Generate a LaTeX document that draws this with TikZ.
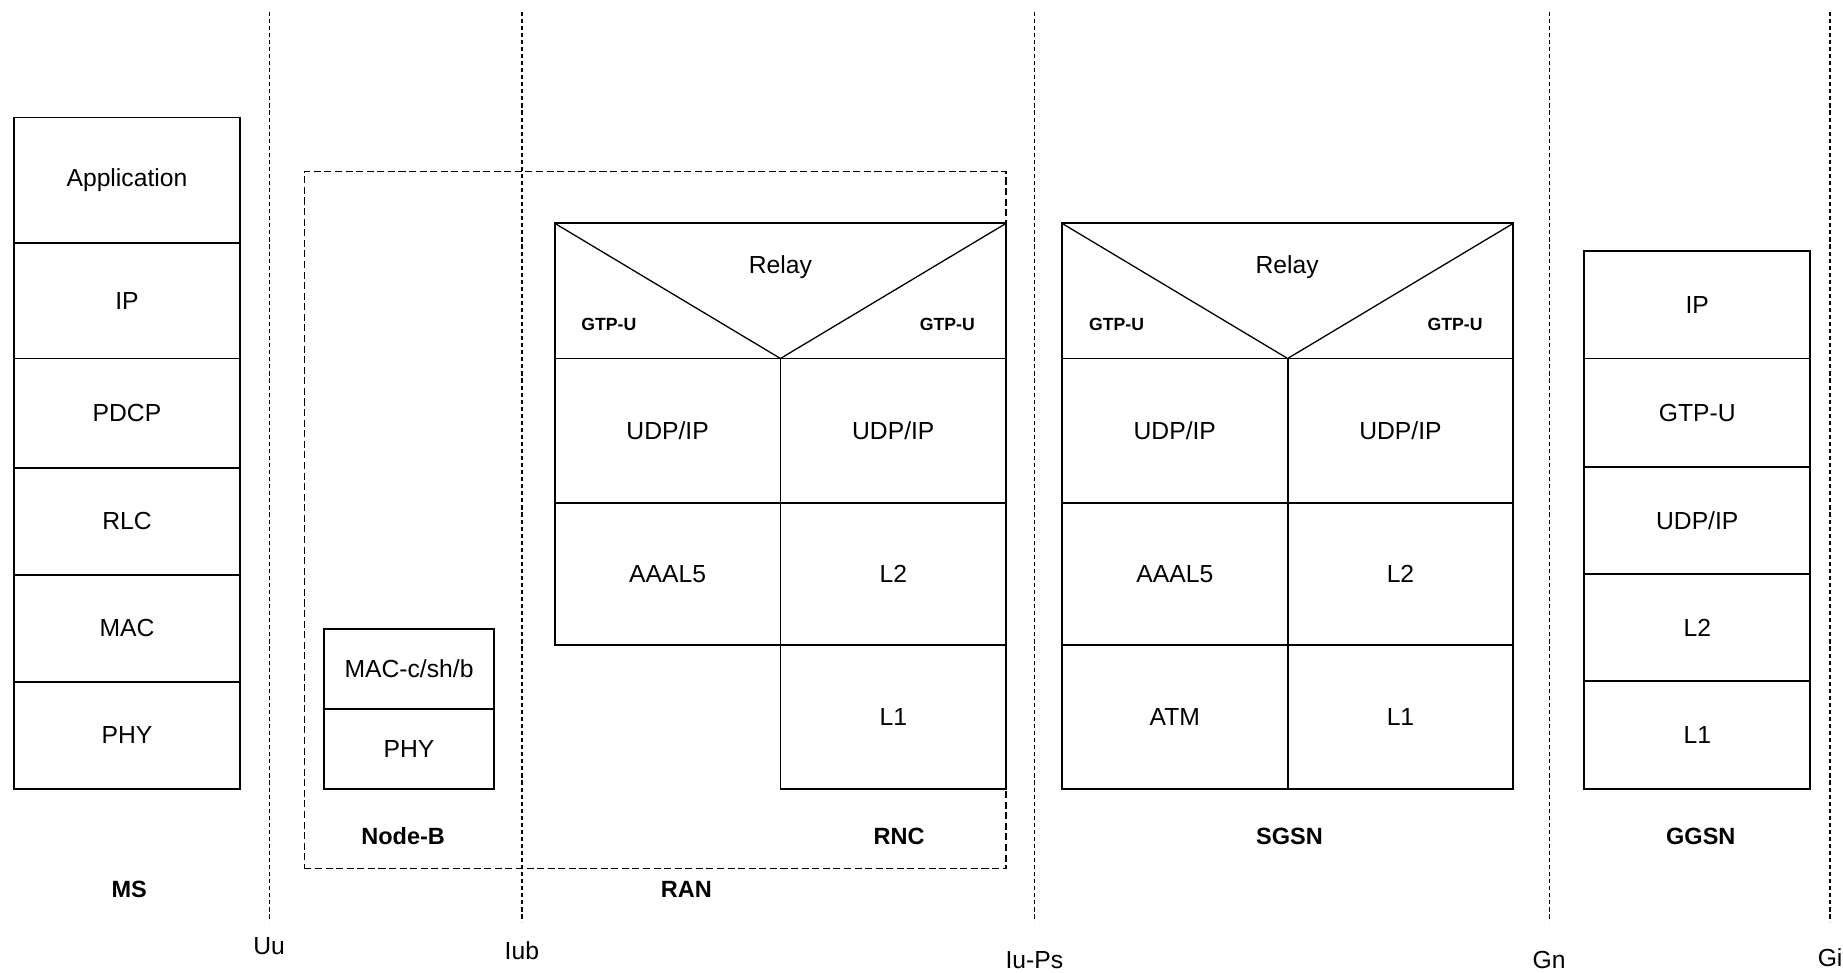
\documentclass[tikz,border=0pt]{standalone}
\usepackage{fontspec}
\setmainfont{Liberation Sans}
\usetikzlibrary{positioning}

\begin{document}
\begin{tikzpicture}[x=1pt,y=-1pt,font=\fontsize{21}{25}\selectfont]
\tikzstyle{layer}=[draw,line width=1.6pt,inner sep=0pt,outer sep=0pt,minimum width=192pt]
\tikzstyle{iface}=[line width=1.1pt,dash pattern=on 3.5pt off 2.5pt]
\tikzstyle{frame}=[draw,line width=1.2pt,dash pattern=on 6pt off 3pt,inner sep=0pt,outer sep=0pt]
\tikzstyle{entity}=[font=\bfseries\fontsize{20}{24}\selectfont]
\tikzstyle{gtp}=[font=\bfseries\fontsize{15}{18}\selectfont]
\useasboundingbox (0,0) rectangle (1568,827);
% interfaces
\foreach \x/\name/\lab/\ly in {229/uu/Uu/805,444/iub/Iub/809,880/iups/Iu-Ps/817,1318/gn/Gn/817,1557/gi/Gi/815}{
  \coordinate (\name top) at (\x,10);
  \coordinate (\name bot) at (\x,784);
  \node (\name) at (\x,\ly) {\lab};
  \draw[iface] (\name top) -- (\name bot);
}
% MS
\node[layer,minimum height=107pt] (app) at (108,153.5) {Application};
\node[layer,minimum height=98pt,below=0pt of app] (msip) {IP};
\node[layer,minimum height=93pt,below=0pt of msip] (pdcp) {PDCP};
\node[layer,minimum height=91pt,below=0pt of pdcp] (rlc) {RLC};
\node[layer,minimum height=91pt,below=0pt of rlc] (mac) {MAC};
\node[layer,minimum height=91pt,below=0pt of mac] (msphy) {PHY};
\node[entity] (ms) at (110,757) {MS};
% RAN
\node[frame,minimum width=597pt,minimum height=593pt] (ranframe) at (557.5,442.5) {};
\node[entity] (ran) at (584,757) {RAN};
% Node-B
\node[layer,minimum width=144pt,minimum height=68pt] (macc) at (348,569) {MAC-c/sh/b};
\node[layer,minimum width=144pt,minimum height=68pt,below=0pt of macc] (nbphy) {PHY};
\node[entity] (nodeb) at (343,711) {Node-B};
% RNC
\node[layer,minimum width=384pt,minimum height=115pt] (rncrelay) at (664,247.5) {};
\draw[line width=1.1pt] (rncrelay.north west) -- (rncrelay.south) -- (rncrelay.north east);
\node (rncrelaytxt) at (664,227) {Relay};
\node[gtp] (rncgtpa) at (518,276) {GTP-U};
\node[gtp] (rncgtpb) at (806,276) {GTP-U};
\node[layer,minimum height=123pt,below right=0pt of rncrelay.south west] (rncudpa) {UDP/IP};
\node[layer,minimum height=123pt,right=0pt of rncudpa] (rncudpb) {UDP/IP};
\node[layer,minimum height=121pt,below=0pt of rncudpa] (rncaal) {AAAL5};
\node[layer,minimum height=121pt,below=0pt of rncudpb] (rncl2) {L2};
\node[layer,minimum height=122pt,below=0pt of rncl2] (rncl1) {L1};
\node[entity] (rnc) at (765,712) {RNC};
% SGSN
\node[layer,minimum width=384pt,minimum height=115pt] (sgrelay) at (1095.5,247.5) {};
\draw[line width=1.1pt] (sgrelay.north west) -- (sgrelay.south) -- (sgrelay.north east);
\node (sgrelaytxt) at (1095,227) {Relay};
\node[gtp] (sggtpa) at (950,276) {GTP-U};
\node[gtp] (sggtpb) at (1238,276) {GTP-U};
\node[layer,minimum height=123pt,below right=0pt of sgrelay.south west] (sgudpa) {UDP/IP};
\node[layer,minimum height=123pt,right=0pt of sgudpa] (sgudpb) {UDP/IP};
\node[layer,minimum height=121pt,below=0pt of sgudpa] (sgaal) {AAAL5};
\node[layer,minimum height=121pt,below=0pt of sgudpb] (sgl2) {L2};
\node[layer,minimum height=122pt,below=0pt of sgaal] (sgatm) {ATM};
\node[layer,minimum height=122pt,below=0pt of sgl2] (sgl1) {L1};
\node[entity] (sgsn) at (1097,712) {SGSN};
% GGSN
\node[layer,minimum height=91.5pt] (ggip) at (1444,259.25) {IP};
\node[layer,minimum height=92.5pt,below=0pt of ggip] (gggtp) {GTP-U};
\node[layer,minimum height=91pt,below=0pt of gggtp] (ggudp) {UDP/IP};
\node[layer,minimum height=91pt,below=0pt of ggudp] (ggl2) {L2};
\node[layer,minimum height=91.5pt,below=0pt of ggl2] (ggl1) {L1};
\node[entity] (ggsn) at (1447,712) {GGSN};
\end{tikzpicture}
\end{document}
